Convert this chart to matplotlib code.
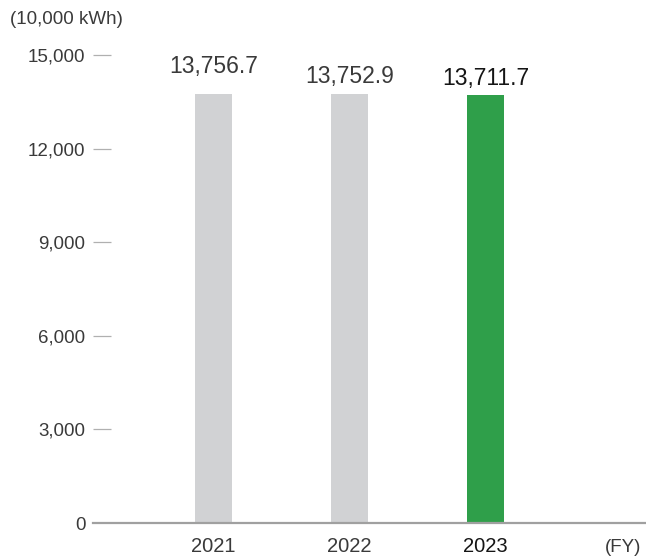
import matplotlib
matplotlib.use("Agg")
import matplotlib.pyplot as plt

plt.rcParams['font.family'] = ['Liberation Sans', 'DejaVu Sans']

# Electricity consumption by fiscal year (10,000 kWh)
years = ["2021", "2022", "2023"]
values = [13756.7, 13752.9, 13711.7]
value_labels = ["13,756.7", "13,752.9", "13,711.7"]
y_ticks = [0, 3000, 6000, 9000, 12000, 15000]
y_tick_labels = ["0", "3,000", "6,000", "9,000", "12,000", "15,000"]

bar_colors = ["#d1d2d4", "#d1d2d4", "#2f9f4a"]
text_colors = ["#3a3a3a", "#3a3a3a", "#151515"]
label_offsets = [15, 7.5, 7.5]  # points above each bar top

W, H = 646, 558
fig = plt.figure(figsize=(W / 100, H / 100), dpi=100)
ax = fig.add_axes([111 / W, (H - 523) / H, (646 - 111) / W, (523 - 55) / H])

x = list(range(len(years)))
ax.bar(x, values, width=0.272, color=bar_colors, zorder=2)

ax.set_xlim(-0.754, 3.18)
ax.set_ylim(0, 15000)

for s in ["top", "right", "left", "bottom"]:
    ax.spines[s].set_visible(False)

# baseline starts where the tick dashes start
ax.axhline(0, xmin=-(111 - 93) / 535, xmax=1, color="#a0a0a0", lw=1.6,
           clip_on=False, zorder=3)

ax.set_yticks(y_ticks)
ax.set_yticklabels(y_tick_labels)
ax.tick_params(axis="y", direction="out", length=13, width=0.9,
               color="#b0b0b0", pad=5.5, labelsize=13.5, labelcolor="#3a3a3a")
ax.yaxis.get_major_ticks()[0].tick1line.set_visible(False)

ax.set_xticks(x)
ax.set_xticklabels(years)
ax.tick_params(axis="x", length=0, pad=10, labelsize=14.5)
for lbl, c in zip(ax.get_xticklabels(), text_colors):
    lbl.set_color(c)

for xi, v, t, c, off in zip(x, values, value_labels, text_colors, label_offsets):
    ax.annotate(t, (xi, v), xytext=(0, off), textcoords="offset points",
                ha="center", va="baseline", fontsize=16.5, color=c)

fig.text(10 / W, (H - 20) / H, "(10,000 kWh)", fontsize=13.5, color="#3a3a3a",
         ha="left", va="center")
fig.text(623 / W, (H - 547) / H, "(FY)", fontsize=13.5, color="#3a3a3a",
         ha="center", va="center")

fig.savefig("out.png", dpi=100)
